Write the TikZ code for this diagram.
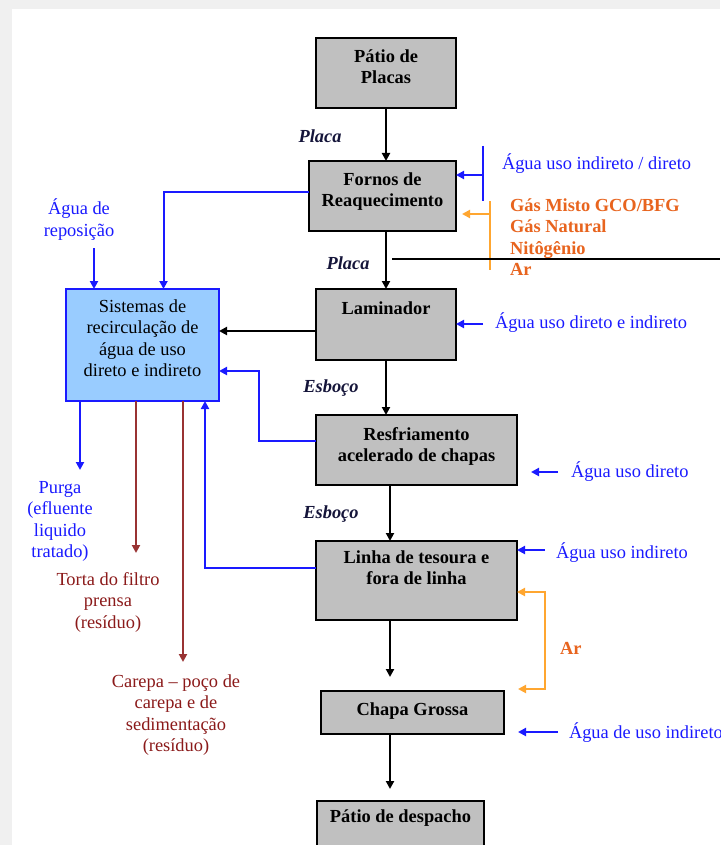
\documentclass[tikz,border=0pt]{standalone}
\usepackage{fontspec}
\setmainfont{Liberation Serif}
\usetikzlibrary{arrows.meta}
\definecolor{boxgray}{HTML}{C0C0C0}
\definecolor{lblue}{HTML}{99CCFF}
\definecolor{tblue}{HTML}{1A1AFF}
\definecolor{lorange}{HTML}{FFA630}
\definecolor{torange}{HTML}{E8641E}
\definecolor{dred}{HTML}{993333}
\definecolor{tred}{HTML}{8B1A1A}
\definecolor{bggray}{HTML}{F0F0F0}
\definecolor{flowtxt}{HTML}{15153A}
\begin{document}
\begin{tikzpicture}[x=1pt,y=-1pt,
  every node/.style={inner sep=0pt, outer sep=0pt},
  gbox/.style={draw=black, line width=1.5pt, fill=boxgray, anchor=north west, rectangle},
  bt/.style={font=\fontsize{18.4}{21.5}\selectfont\bfseries, align=center, anchor=north},
  nt/.style={font=\fontsize{18.4}{21.5}\selectfont, align=center, anchor=north},
  fl/.style={font=\fontsize{18.4}{21.5}\selectfont\bfseries\itshape, text=flowtxt, anchor=base},
  blt/.style={font=\fontsize{18.4}{21.5}\selectfont, text=tblue, anchor=base west},
  ort/.style={font=\fontsize{18.4}{21.5}\selectfont\bfseries, text=torange},
  blk/.style={draw=black, line width=2.4pt, -{Triangle[length=8pt,width=8pt]}},
  bla/.style={draw=tblue, line width=2pt, -{Triangle[length=8pt,width=8pt]}},
  bln/.style={draw=tblue, line width=2pt},
  ora/.style={draw=lorange, line width=2pt, -{Triangle[length=8pt,width=8pt]}},
  orn/.style={draw=lorange, line width=2pt},
  rda/.style={draw=dred, line width=2pt, -{Triangle[length=8pt,width=8pt]}}
]
\useasboundingbox (0,0) rectangle (720,845);
\clip (0,0) rectangle (720,845);
\fill[bggray] (0,0) rectangle (720,845);
\fill[white] (12,9) rectangle (720,845);

% main column boxes
\node[gbox, minimum width=140pt, minimum height=70pt] (patio) at (316,38) {};
\node[bt] (patioT) at (386,47) {\strut Pátio de\\Placas};
\node[gbox, minimum width=147pt, minimum height=70pt] (fornos) at (309,161) {};
\node[bt] (fornosT) at (382.5,170) {\strut Fornos de\\Reaquecimento};
\node[gbox, minimum width=140pt, minimum height=71pt] (lamin) at (316,289) {};
\node[bt] (laminT) at (386,299) {\strut Laminador};
\node[gbox, minimum width=201pt, minimum height=70pt] (resf) at (316,415) {};
\node[bt] (resfT) at (416.5,425) {\strut Resfriamento\\acelerado de chapas};
\node[gbox, minimum width=201pt, minimum height=79pt] (linha) at (316,541) {};
\node[bt] (linhaT) at (416.5,548) {\strut Linha de tesoura e\\fora de linha};
\node[gbox, minimum width=183pt, minimum height=43pt] (chapa) at (321,691) {};
\node[bt] (chapaT) at (412.5,700) {\strut Chapa Grossa};
\node[gbox, minimum width=167pt, minimum height=70pt] (desp) at (317,801) {};
\node[bt] (despT) at (400.5,807) {\strut Pátio de despacho};

% recirculation box
\node[draw=tblue, line width=1.5pt, fill=lblue, minimum width=153pt, minimum height=112pt, anchor=north west] (sis) at (66,289) {};
\node[nt] (sisT) at (142.5,297) {\strut Sistemas de\\recirculação de\\água de uso\\direto e indireto};

% flow labels
\node[fl] (placa1) at (320,143) {Placa};
\node[fl] (placa2) at (348,269) {Placa};
\node[fl] (esb1) at (331,392) {Esboço};
\node[fl] (esb2) at (331,518) {Esboço};

% left labels
\node[nt, text=tblue] (repo) at (79,199) {\strut Água de\\reposição};
\node[nt, text=tblue] (purga) at (60,478) {\strut Purga\\(efluente\\liquido\\tratado)};
\node[nt, text=tred] (torta) at (108,570) {\strut Torta do filtro\\prensa\\(resíduo)};
\node[nt, text=tred] (carepa) at (176,672) {\strut Carepa – poço de\\carepa e de\\sedimentação\\(resíduo)};

% right labels
\node[blt] (aguaF) at (502,169) {Água uso indireto / direto};
\node[ort, anchor=north west, align=left] (gas) at (510,196) {\strut Gás Misto GCO/BFG\\Gás Natural\\Nitôgênio\\Ar};
\node[blt] (aguaL) at (495,328) {Água uso direto e indireto};
\node[blt] (aguaR) at (571,477) {Água uso direto};
\node[blt] (aguaLi) at (556,558) {Água uso indireto};
\node[ort, anchor=base west] (arT) at (560,654) {Ar};
\node[blt] (aguaC) at (569,738) {Água de uso indireto};

% coordinates
\coordinate (spine) at (390,0);
\coordinate (repS) at (94,248);
\coordinate (cPurga) at (80,470);
\coordinate (cTorta) at (136,553);
\coordinate (cCarepa) at (183,662);
\coordinate (cResf) at (259,371);
\coordinate (cLinha) at (205,0);
\coordinate (fb1) at (483,146);
\coordinate (fb2) at (483,201);
\coordinate (fa) at (483,175);
\coordinate (ob1) at (490,201);
\coordinate (ob2) at (490,270);
\coordinate (oa) at (490,214);
\coordinate (oaE) at (462,214);
\coordinate (la) at (483,324);
\coordinate (ra) at (558,472);
\coordinate (raE) at (531,472);
\coordinate (lia) at (545,550);
\coordinate (arTop) at (545,592);
\coordinate (arBot) at (518,689);
\coordinate (ca) at (558,732);
\coordinate (caE) at (518,732);
\coordinate (hA) at (392,259);
\coordinate (hB) at (720,259);

% main flow
\draw[blk] (patio.south) -- (patio.south |- fornos.north);
\draw[blk] (lamin.north |- fornos.south) -- (lamin.north);
\draw[blk] ([yshift=-6.5pt]lamin.west) -- ([yshift=-6.5pt]lamin.west -| sis.east);
\draw[blk] (lamin.south) -- (lamin.south |- resf.north);
\draw[blk] (resf.south -| spine) -- (linha.north -| spine);
\draw[blk] (linha.south -| spine) -- ([yshift=14pt]chapa.north -| spine);
\draw[blk] (chapa.south -| spine) -- ([yshift=12pt]desp.north -| spine);

% blue returns
\draw[bla] ([yshift=4pt]fornos.west) -| ([xshift=21pt]sis.north);
\draw[bla] (repS) -- (repS |- sis.north);
\draw[bla] (sis.south -| cPurga) -- (cPurga);
\draw[rda] (sis.south -| cTorta) -- (cTorta);
\draw[rda] (sis.south -| cCarepa) -- (cCarepa);
\draw[bla] ([yshift=9pt]resf.west) -| (cResf) -- (cResf -| sis.east);
\draw[bla] ([yshift=12.5pt]linha.west) -| (sis.south -| cLinha);

% right inputs
\draw[bln] (fb1) -- (fb2);
\draw[bla] (fa) -- (fa -| fornos.east);
\draw[orn] (ob1) -- (ob2);
\draw[ora] (oa) -- (oaE);
\draw[line width=2.5pt] (hA) -- (hB);
\draw[bla] (la) -- (la -| lamin.east);
\draw[bla] (ra) -- (raE);
\draw[bla] (lia) -- (lia -| linha.east);
\draw[orn, {Triangle[length=8pt,width=8pt]}-{Triangle[length=8pt,width=8pt]}] ([yshift=-11.5pt]linha.east) -- (arTop) |- (arBot);
\draw[bla] (ca) -- (caE);
\end{tikzpicture}
\end{document}
